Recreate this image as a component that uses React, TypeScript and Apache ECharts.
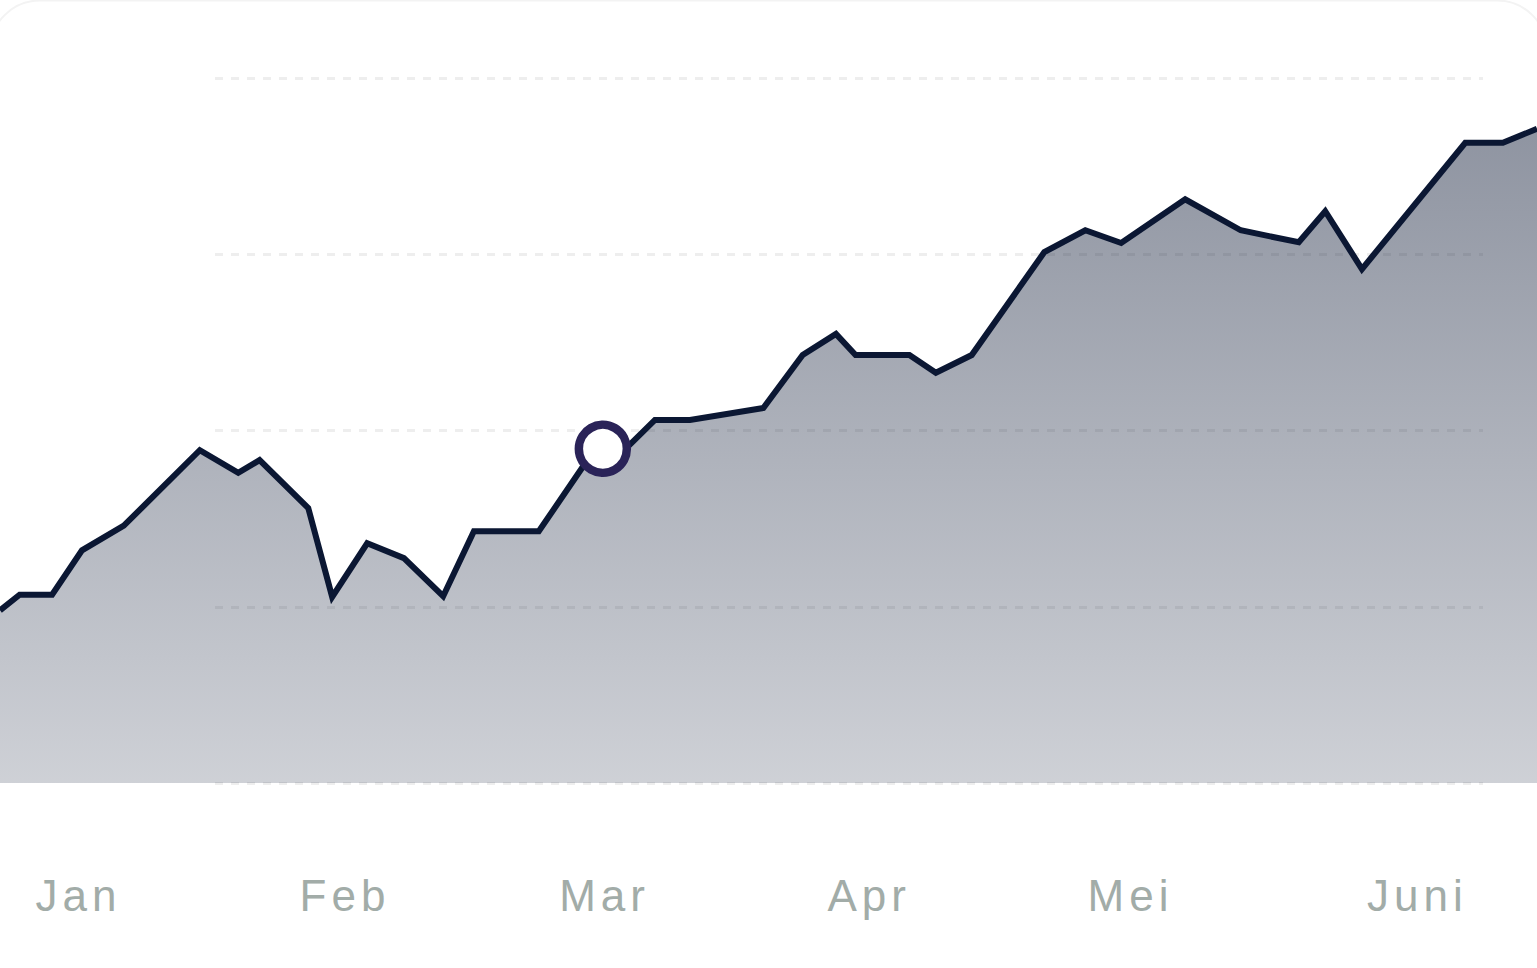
import React, { useEffect, useRef } from "react";
import * as echarts from "echarts";

// x positions in days since the start of the visible range, y values in index points
const dayOffsets = [
  0, 2.3, 6.1, 9.6, 14.5, 23.4, 27.9, 30.4, 36.1, 38.9, 43.0, 47.3, 51.9, 55.5, 63.1,
  68.9, 71.0, 76.7, 80.8, 89.4, 94.0, 97.9, 100.2, 106.5, 109.6, 113.8, 122.3, 127.1, 131.3,
  138.8, 145.3, 152.1, 155.2, 159.5, 171.6, 176.0, 180,
];
const values = [
  24.5, 26.7, 26.7, 33.0, 36.5, 47.2, 44.0, 45.8, 39.0, 26.4, 34.0, 31.9, 26.5, 35.7, 35.7,
  46.0, 44.7, 51.5, 51.5, 53.2, 60.7, 63.7, 60.7, 60.7, 58.2, 60.7, 75.3, 78.4, 76.6, 82.8,
  78.4, 76.7, 81.1, 72.9, 90.8, 90.8, 92.8,
];
// highlighted point (marker)
const highlightDay = 70.6;
const highlightValue = 47.4;

const monthLabels = ["Jan", "Feb", "Mar", "Apr", "Mei", "Juni"];
const monthLabelDays = [9.2, 40.4, 70.8, 101.8, 132.4, 166.0];

const yTicks = [0, 25, 50, 75, 100];

export default function App() {
  const ref = useRef<HTMLDivElement>(null);

  useEffect(() => {
    document.body.style.margin = "0";
    const styleEl = document.createElement("style");
    styleEl.textContent = "#chart-root text { letter-spacing: 5px; }";
    document.head.appendChild(styleEl);

    const chart = echarts.init(ref.current!, null, { renderer: "svg" });

    const seriesData = dayOffsets.map((d, i) => [d, values[i]]);

    chart.setOption({
      animation: false,
      backgroundColor: "#ffffff",
      graphic: [
        {
          type: "rect",
          silent: true,
          z: -10,
          shape: { x: -10, y: 0.5, width: 1557, height: 1000, r: 50 },
          style: { fill: "none", stroke: "#f3f3f3", lineWidth: 2 },
        },
      ],
      grid: [
        { left: 0, right: 0, top: 78, bottom: 185, containLabel: false },
        { left: 215, right: 54, top: 78, bottom: 185, containLabel: false },
      ],
      xAxis: [
        {
          type: "value",
          gridIndex: 0,
          min: 0,
          max: 180,
          axisLine: { show: false },
          axisTick: { show: false },
          splitLine: { show: false },
          axisLabel: {
            customValues: monthLabelDays,
            formatter: (v: number) => {
              const idx = monthLabelDays.findIndex((m) => Math.abs(m - v) < 0.01);
              return idx >= 0 ? monthLabels[idx] : "";
            },
            margin: 90,
            color: "#a2aca8",
            fontSize: 44,
            fontFamily: "Liberation Sans, Arial, sans-serif",
          },
        },
        {
          type: "value",
          gridIndex: 1,
          min: 0,
          max: 1,
          show: false,
        },
      ],
      yAxis: [
        {
          type: "value",
          gridIndex: 0,
          min: 0,
          max: 100,
          interval: 25,
          show: false,
          splitLine: { show: false },
        },
        {
          type: "value",
          gridIndex: 1,
          min: yTicks[0],
          max: yTicks[yTicks.length - 1],
          interval: 25,
          axisLine: { show: false },
          axisTick: { show: false },
          axisLabel: { show: false },
          splitLine: {
            show: true,
            lineStyle: { color: "rgba(0,0,0,0.065)", width: 3, type: [8, 8] },
          },
        },
      ],
      series: [
        {
          type: "line",
          xAxisIndex: 0,
          yAxisIndex: 0,
          data: seriesData,
          symbol: "none",
          smooth: false,
          clip: false,
          lineStyle: { color: "#0b1733", width: 6, join: "miter" },
          areaStyle: {
            origin: "start",
            opacity: 1,
            color: new echarts.graphic.LinearGradient(0, 0, 0, 1, [
              { offset: 0, color: "rgba(11,23,51,0.46)" },
              { offset: 1, color: "rgba(11,23,51,0.2)" },
            ]),
          },
          z: 2,
        },
        {
          type: "scatter",
          xAxisIndex: 0,
          yAxisIndex: 0,
          data: [[highlightDay, highlightValue]],
          symbol: "circle",
          symbolSize: 48,
          itemStyle: { color: "#ffffff", borderColor: "#2a2358", borderWidth: 8.5, opacity: 1 },
          z: 5,
        },
      ],
    });

    return () => {
      chart.dispose();
      styleEl.remove();
    };
  }, []);

  return (
    <div
      id="chart-root"
      ref={ref}
      style={{ position: "absolute", left: 0, top: 0, width: 1537, height: 968 }}
    />
  );
}
